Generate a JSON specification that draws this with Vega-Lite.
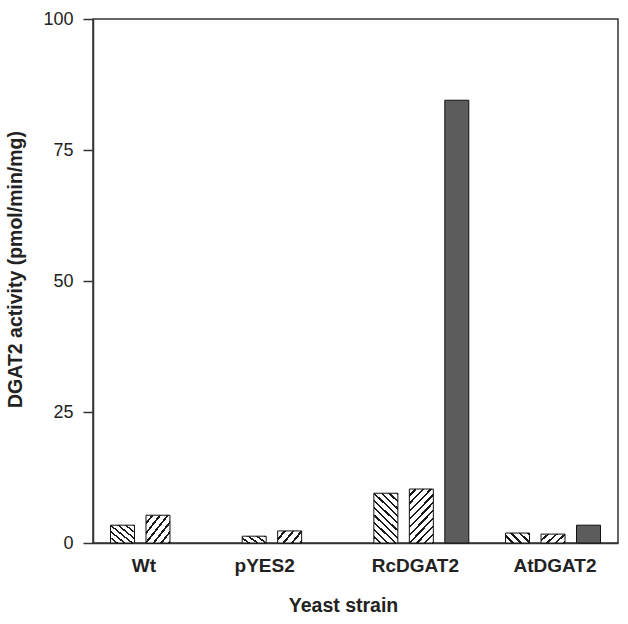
{
  "$schema": "https://vega.github.io/schema/vega-lite/v6.json",
  "width": 525,
  "height": 524,
  "autosize": {"type": "none"},
  "padding": {"left": 93, "top": 19, "right": 10, "bottom": 81},
  "background": "white",
  "config": {
    "view": {"stroke": "#333333", "strokeWidth": 1.5},
    "font": "Liberation Sans"
  },
  "data": {
    "values": [
      {"strain": "Wt", "series": "A", "value": 3.4},
      {"strain": "Wt", "series": "B", "value": 5.3},
      {"strain": "pYES2", "series": "A", "value": 1.3},
      {"strain": "pYES2", "series": "B", "value": 2.3},
      {"strain": "RcDGAT2", "series": "A", "value": 9.5},
      {"strain": "RcDGAT2", "series": "B", "value": 10.3},
      {"strain": "RcDGAT2", "series": "C", "value": 84.5},
      {"strain": "AtDGAT2", "series": "A", "value": 1.9},
      {"strain": "AtDGAT2", "series": "B", "value": 1.7},
      {"strain": "AtDGAT2", "series": "C", "value": 3.4}
    ]
  },
  "mark": {"type": "bar", "stroke": "#111111", "strokeWidth": 1},
  "encoding": {
    "x": {
      "field": "strain",
      "type": "nominal",
      "sort": ["Wt", "pYES2", "RcDGAT2", "AtDGAT2"],
      "scale": {"paddingInner": 0.279, "paddingOuter": 0.133},
      "axis": {
        "title": "Yeast strain",
        "titleFont": "Liberation Sans",
        "titleFontSize": 19.5,
        "titleFontWeight": "bold",
        "titleColor": "#222222",
        "titleX": 250,
        "titleY": 68,
        "titleBaseline": "alphabetic",
        "titleAnchor": "middle",
        "labelAngle": 0,
        "labelFont": "Liberation Sans",
        "labelFontSize": 19,
        "labelFontWeight": "bold",
        "labelColor": "#222222",
        "labelBaseline": "alphabetic",
        "labelPadding": 28,
        "labelOffset": {
          "condition": [
            {"test": "datum.value === 'Wt'", "value": -14},
            {"test": "datum.value === 'pYES2'", "value": -25},
            {"test": "datum.value === 'RcDGAT2'", "value": -6}
          ],
          "value": 2
        },
        "ticks": false,
        "tickSize": 0,
        "domainColor": "#333333",
        "domainWidth": 1.5,
        "grid": false
      }
    },
    "xOffset": {
      "field": "series",
      "type": "nominal",
      "scale": {"domain": ["A", "B", "C"], "paddingInner": 0.324, "paddingOuter": 0}
    },
    "y": {
      "field": "value",
      "type": "quantitative",
      "scale": {"domain": [0, 100], "nice": false},
      "axis": {
        "title": "DGAT2 activity (pmol/min/mg)",
        "titleFont": "Liberation Sans",
        "titleFontSize": 19.5,
        "titleFontWeight": "bold",
        "titleColor": "#222222",
        "titleX": -78,
        "titleY": 250,
        "titleAngle": -90,
        "titleBaseline": "middle",
        "titleAlign": "center",
        "values": [0, 25, 50, 75, 100],
        "labelFont": "Liberation Sans",
        "labelFontSize": 18,
        "labelColor": "#222222",
        "labelPadding": 10,
        "tickSize": 10,
        "tickColor": "#333333",
        "tickWidth": 1.5,
        "domainColor": "#333333",
        "domainWidth": 1.5,
        "grid": false
      }
    },
    "fill": {
      "condition": [
        {"test": "datum.series === 'C'", "value": "#5c5c5c"},
        {"test": "datum.series === 'A' && datum.value < 2.6", "value": {
          "gradient": "linear", "x1": 0, "y1": 1, "x2": 1.207, "y2": 0.497,
          "stops": [
            {"offset": 0, "color": "#ffffff"}, {"offset": 0.175, "color": "#ffffff"}, {"offset": 0.175, "color": "#1a1a1a"}, {"offset": 0.25, "color": "#1a1a1a"},
            {"offset": 0.25, "color": "#ffffff"}, {"offset": 0.425, "color": "#ffffff"}, {"offset": 0.425, "color": "#1a1a1a"}, {"offset": 0.5, "color": "#1a1a1a"},
            {"offset": 0.5, "color": "#ffffff"}, {"offset": 0.675, "color": "#ffffff"}, {"offset": 0.675, "color": "#1a1a1a"}, {"offset": 0.75, "color": "#1a1a1a"},
            {"offset": 0.75, "color": "#ffffff"}, {"offset": 0.925, "color": "#ffffff"}, {"offset": 0.925, "color": "#1a1a1a"}, {"offset": 1, "color": "#1a1a1a"}
          ]}},
        {"test": "datum.series === 'B' && datum.value < 2.6", "value": {
          "gradient": "linear", "x1": 0, "y1": 0, "x2": 1.207, "y2": 0.503,
          "stops": [
            {"offset": 0, "color": "#ffffff"}, {"offset": 0.175, "color": "#ffffff"}, {"offset": 0.175, "color": "#1a1a1a"}, {"offset": 0.25, "color": "#1a1a1a"},
            {"offset": 0.25, "color": "#ffffff"}, {"offset": 0.425, "color": "#ffffff"}, {"offset": 0.425, "color": "#1a1a1a"}, {"offset": 0.5, "color": "#1a1a1a"},
            {"offset": 0.5, "color": "#ffffff"}, {"offset": 0.675, "color": "#ffffff"}, {"offset": 0.675, "color": "#1a1a1a"}, {"offset": 0.75, "color": "#1a1a1a"},
            {"offset": 0.75, "color": "#ffffff"}, {"offset": 0.925, "color": "#ffffff"}, {"offset": 0.925, "color": "#1a1a1a"}, {"offset": 1, "color": "#1a1a1a"}
          ]}},
        {"test": "datum.series === 'A' && datum.value < 7", "value": {
          "gradient": "linear", "x1": 0, "y1": 1, "x2": 1.042, "y2": 0.045,
          "stops": [
            {"offset": 0, "color": "#ffffff"}, {"offset": 0.1167, "color": "#ffffff"}, {"offset": 0.1167, "color": "#1a1a1a"}, {"offset": 0.1667, "color": "#1a1a1a"},
            {"offset": 0.1667, "color": "#ffffff"}, {"offset": 0.2833, "color": "#ffffff"}, {"offset": 0.2833, "color": "#1a1a1a"}, {"offset": 0.3333, "color": "#1a1a1a"},
            {"offset": 0.3333, "color": "#ffffff"}, {"offset": 0.45, "color": "#ffffff"}, {"offset": 0.45, "color": "#1a1a1a"}, {"offset": 0.5, "color": "#1a1a1a"},
            {"offset": 0.5, "color": "#ffffff"}, {"offset": 0.6167, "color": "#ffffff"}, {"offset": 0.6167, "color": "#1a1a1a"}, {"offset": 0.6667, "color": "#1a1a1a"},
            {"offset": 0.6667, "color": "#ffffff"}, {"offset": 0.7833, "color": "#ffffff"}, {"offset": 0.7833, "color": "#1a1a1a"}, {"offset": 0.8333, "color": "#1a1a1a"},
            {"offset": 0.8333, "color": "#ffffff"}, {"offset": 0.95, "color": "#ffffff"}, {"offset": 0.95, "color": "#1a1a1a"}, {"offset": 1, "color": "#1a1a1a"}
          ]}},
        {"test": "datum.series === 'B' && datum.value < 7", "value": {
          "gradient": "linear", "x1": 0, "y1": 0, "x2": 1.042, "y2": 0.955,
          "stops": [
            {"offset": 0, "color": "#ffffff"}, {"offset": 0.1167, "color": "#ffffff"}, {"offset": 0.1167, "color": "#1a1a1a"}, {"offset": 0.1667, "color": "#1a1a1a"},
            {"offset": 0.1667, "color": "#ffffff"}, {"offset": 0.2833, "color": "#ffffff"}, {"offset": 0.2833, "color": "#1a1a1a"}, {"offset": 0.3333, "color": "#1a1a1a"},
            {"offset": 0.3333, "color": "#ffffff"}, {"offset": 0.45, "color": "#ffffff"}, {"offset": 0.45, "color": "#1a1a1a"}, {"offset": 0.5, "color": "#1a1a1a"},
            {"offset": 0.5, "color": "#ffffff"}, {"offset": 0.6167, "color": "#ffffff"}, {"offset": 0.6167, "color": "#1a1a1a"}, {"offset": 0.6667, "color": "#1a1a1a"},
            {"offset": 0.6667, "color": "#ffffff"}, {"offset": 0.7833, "color": "#ffffff"}, {"offset": 0.7833, "color": "#1a1a1a"}, {"offset": 0.8333, "color": "#1a1a1a"},
            {"offset": 0.8333, "color": "#ffffff"}, {"offset": 0.95, "color": "#ffffff"}, {"offset": 0.95, "color": "#1a1a1a"}, {"offset": 1, "color": "#1a1a1a"}
          ]}},
        {"test": "datum.series === 'A'", "value": {
          "gradient": "linear", "x1": 0, "y1": 1, "x2": 0.556, "y2": -0.205,
          "stops": [
            {"offset": 0, "color": "#ffffff"}, {"offset": 0.07, "color": "#ffffff"}, {"offset": 0.07, "color": "#1a1a1a"}, {"offset": 0.1, "color": "#1a1a1a"},
            {"offset": 0.1, "color": "#ffffff"}, {"offset": 0.17, "color": "#ffffff"}, {"offset": 0.17, "color": "#1a1a1a"}, {"offset": 0.2, "color": "#1a1a1a"},
            {"offset": 0.2, "color": "#ffffff"}, {"offset": 0.27, "color": "#ffffff"}, {"offset": 0.27, "color": "#1a1a1a"}, {"offset": 0.3, "color": "#1a1a1a"},
            {"offset": 0.3, "color": "#ffffff"}, {"offset": 0.37, "color": "#ffffff"}, {"offset": 0.37, "color": "#1a1a1a"}, {"offset": 0.4, "color": "#1a1a1a"},
            {"offset": 0.4, "color": "#ffffff"}, {"offset": 0.47, "color": "#ffffff"}, {"offset": 0.47, "color": "#1a1a1a"}, {"offset": 0.5, "color": "#1a1a1a"},
            {"offset": 0.5, "color": "#ffffff"}, {"offset": 0.57, "color": "#ffffff"}, {"offset": 0.57, "color": "#1a1a1a"}, {"offset": 0.6, "color": "#1a1a1a"},
            {"offset": 0.6, "color": "#ffffff"}, {"offset": 0.67, "color": "#ffffff"}, {"offset": 0.67, "color": "#1a1a1a"}, {"offset": 0.7, "color": "#1a1a1a"},
            {"offset": 0.7, "color": "#ffffff"}, {"offset": 0.77, "color": "#ffffff"}, {"offset": 0.77, "color": "#1a1a1a"}, {"offset": 0.8, "color": "#1a1a1a"},
            {"offset": 0.8, "color": "#ffffff"}, {"offset": 0.87, "color": "#ffffff"}, {"offset": 0.87, "color": "#1a1a1a"}, {"offset": 0.9, "color": "#1a1a1a"},
            {"offset": 0.9, "color": "#ffffff"}, {"offset": 0.97, "color": "#ffffff"}, {"offset": 0.97, "color": "#1a1a1a"}, {"offset": 1, "color": "#1a1a1a"}
          ]}}
      ],
      "value": {
        "gradient": "linear", "x1": 0, "y1": 0, "x2": 0.556, "y2": 1.205,
        "stops": [
          {"offset": 0, "color": "#ffffff"}, {"offset": 0.07, "color": "#ffffff"}, {"offset": 0.07, "color": "#1a1a1a"}, {"offset": 0.1, "color": "#1a1a1a"},
          {"offset": 0.1, "color": "#ffffff"}, {"offset": 0.17, "color": "#ffffff"}, {"offset": 0.17, "color": "#1a1a1a"}, {"offset": 0.2, "color": "#1a1a1a"},
          {"offset": 0.2, "color": "#ffffff"}, {"offset": 0.27, "color": "#ffffff"}, {"offset": 0.27, "color": "#1a1a1a"}, {"offset": 0.3, "color": "#1a1a1a"},
          {"offset": 0.3, "color": "#ffffff"}, {"offset": 0.37, "color": "#ffffff"}, {"offset": 0.37, "color": "#1a1a1a"}, {"offset": 0.4, "color": "#1a1a1a"},
          {"offset": 0.4, "color": "#ffffff"}, {"offset": 0.47, "color": "#ffffff"}, {"offset": 0.47, "color": "#1a1a1a"}, {"offset": 0.5, "color": "#1a1a1a"},
          {"offset": 0.5, "color": "#ffffff"}, {"offset": 0.57, "color": "#ffffff"}, {"offset": 0.57, "color": "#1a1a1a"}, {"offset": 0.6, "color": "#1a1a1a"},
          {"offset": 0.6, "color": "#ffffff"}, {"offset": 0.67, "color": "#ffffff"}, {"offset": 0.67, "color": "#1a1a1a"}, {"offset": 0.7, "color": "#1a1a1a"},
          {"offset": 0.7, "color": "#ffffff"}, {"offset": 0.77, "color": "#ffffff"}, {"offset": 0.77, "color": "#1a1a1a"}, {"offset": 0.8, "color": "#1a1a1a"},
          {"offset": 0.8, "color": "#ffffff"}, {"offset": 0.87, "color": "#ffffff"}, {"offset": 0.87, "color": "#1a1a1a"}, {"offset": 0.9, "color": "#1a1a1a"},
          {"offset": 0.9, "color": "#ffffff"}, {"offset": 0.97, "color": "#ffffff"}, {"offset": 0.97, "color": "#1a1a1a"}, {"offset": 1, "color": "#1a1a1a"}
        ]
      }
    }
  }
}
